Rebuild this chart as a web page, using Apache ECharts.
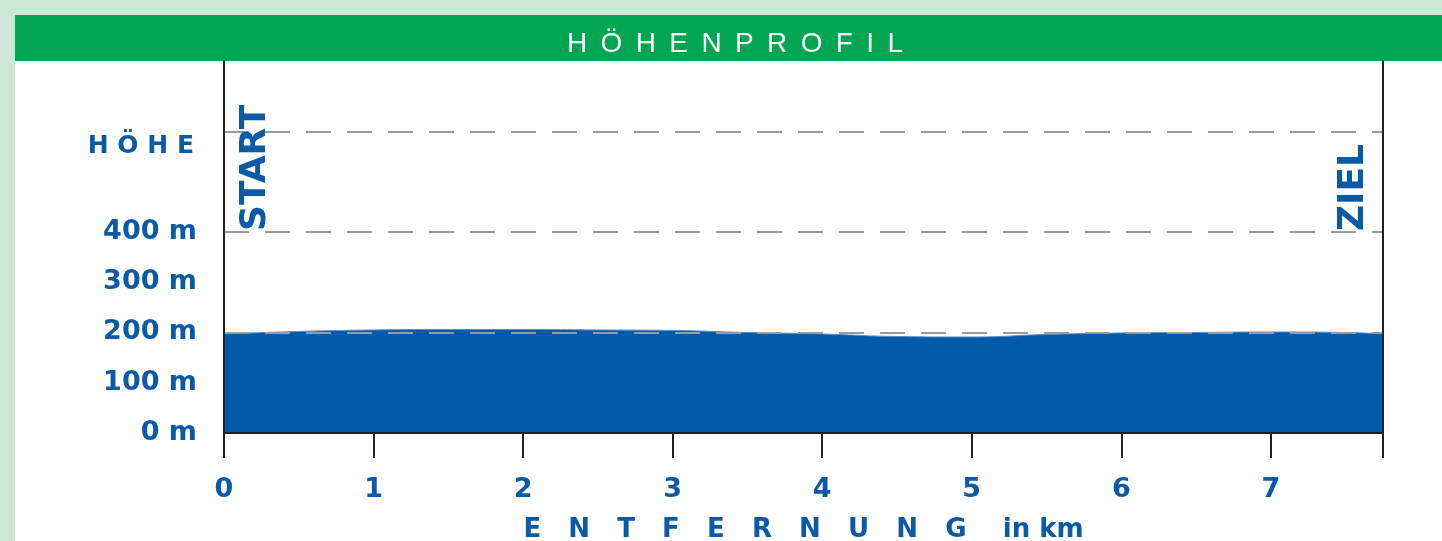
<!DOCTYPE html>
<html>
<head>
<meta charset="utf-8">
<script src="https://cdn.jsdelivr.net/npm/echarts@6/dist/echarts.min.js"></script>
<style>
  html, body { margin: 0; padding: 0; background: #cde7d6; }
  #hoehenprofil { width: 1442px; height: 541px; }
</style>
</head>
<body>
<div id="hoehenprofil"></div>
<script>
// Entfernung in km / Höhe in m
var distKm  = [0, 0.5, 1, 1.5, 2, 2.5, 3, 3.5, 4, 4.5, 5, 5.5, 6, 6.5, 7, 7.5, 7.75];
var hoeheM  = [197, 202, 205, 206, 206, 205, 204, 200, 197, 192, 191, 196, 199, 200, 201, 200, 197];
var xTicks  = [0, 1, 2, 3, 4, 5, 6, 7];
var yTicks  = [0, 100, 200, 300, 400];

var blue = '#0a5aa8';
var font = 'DejaVu Sans';
var gap = ' \u2009';

var profil = distKm.map(function (d, i) { return [d, hoeheM[i]]; });

var myChart = echarts.init(document.getElementById('hoehenprofil'));
var option = {
  backgroundColor: '#cde7d6',
  animation: false,
  grid: { left: 224, right: 59, top: 61, bottom: 108, outerBoundsMode: 'none', containLabel: false },
  graphic: [
    { type: 'rect', z: -10, shape: { x: 15, y: 61, width: 1427, height: 480 }, style: { fill: '#ffffff' } },
    { type: 'rect', z: -10, shape: { x: 15, y: 15, width: 1427, height: 46 }, style: { fill: '#00a651' } },
    { type: 'text', z: 20, x: 735, y: 44,
      style: { text: 'HÖHENPROFIL'.split('').join(gap), fill: '#ffffff', font: '28px "Liberation Sans"',
               align: 'center', verticalAlign: 'middle' } },
    { type: 'text', z: 20, x: 194, y: 146,
      style: { text: 'H Ö H E', fill: blue, font: 'bold 25px "DejaVu Sans"',
               align: 'right', verticalAlign: 'middle' } },
    { type: 'text', z: 20, x: 256, y: 231, rotation: Math.PI / 2,
      style: { text: 'START', fill: blue, font: 'bold 36px "DejaVu Sans"',
               align: 'left', verticalAlign: 'middle' } },
    { type: 'text', z: 20, x: 1354, y: 231, rotation: Math.PI / 2,
      style: { text: 'ZIEL', fill: blue, font: 'bold 36px "DejaVu Sans"',
               align: 'left', verticalAlign: 'middle' } }
  ],
  xAxis: {
    type: 'value',
    min: 0,
    max: 7.75,
    interval: 1,
    z: 12,
    name: 'E   N   T   F   E   R   N   U   N   G    in km',
    nameLocation: 'middle',
    nameGap: 84,
    nameTextStyle: { color: blue, fontFamily: font, fontWeight: 'bold', fontSize: 26 },
    axisLine: { lineStyle: { color: '#222', width: 2 } },
    axisTick: { show: true, length: 25, lineStyle: { color: '#222', width: 2 } },
    axisLabel: {
      margin: 43,
      color: blue, fontFamily: font, fontWeight: 'bold', fontSize: 27,
      formatter: function (v) { return xTicks.indexOf(v) >= 0 ? String(v) : ''; }
    },
    splitLine: { show: false }
  },
  yAxis: [
    {
      type: 'value',
      min: 0,
      max: 740,
      interval: 100,
      z: 12,
      axisLine: { show: true, lineStyle: { color: '#222', width: 2 } },
      axisTick: { show: false },
      axisLabel: {
        margin: 27,
        color: blue, fontFamily: font, fontWeight: 'bold', fontSize: 27,
        formatter: function (v) { return yTicks.indexOf(v) >= 0 ? v + ' m' : ''; }
      },
      splitLine: { show: false }
    },
    {
      type: 'value',
      position: 'left',
      min: 0,
      max: 740,
      interval: 200,
      z: 10,
      axisLine: { show: false },
      axisTick: { show: false },
      axisLabel: { show: false },
      splitLine: {
        show: true,
        showMinLine: false,
        showMaxLine: false,
        lineStyle: { color: '#9a9a9a', width: 2, type: [25, 16] }
      }
    },
    {
      type: 'value',
      position: 'right',
      min: 0,
      max: 740,
      z: 12,
      axisLine: { show: true, lineStyle: { color: '#222', width: 2 } },
      axisTick: { show: false },
      axisLabel: { show: false },
      splitLine: { show: false }
    }
  ],
  series: [
    {
      name: 'Höhe',
      type: 'line',
      data: profil,
      smooth: true,
      symbol: 'none',
      yAxisIndex: 0,
      lineStyle: { color: '#5b8fc8', width: 1 },
      areaStyle: { color: '#005aaa', opacity: 1 }
    }
  ]
};
myChart.setOption(option);
</script>
</body>
</html>
